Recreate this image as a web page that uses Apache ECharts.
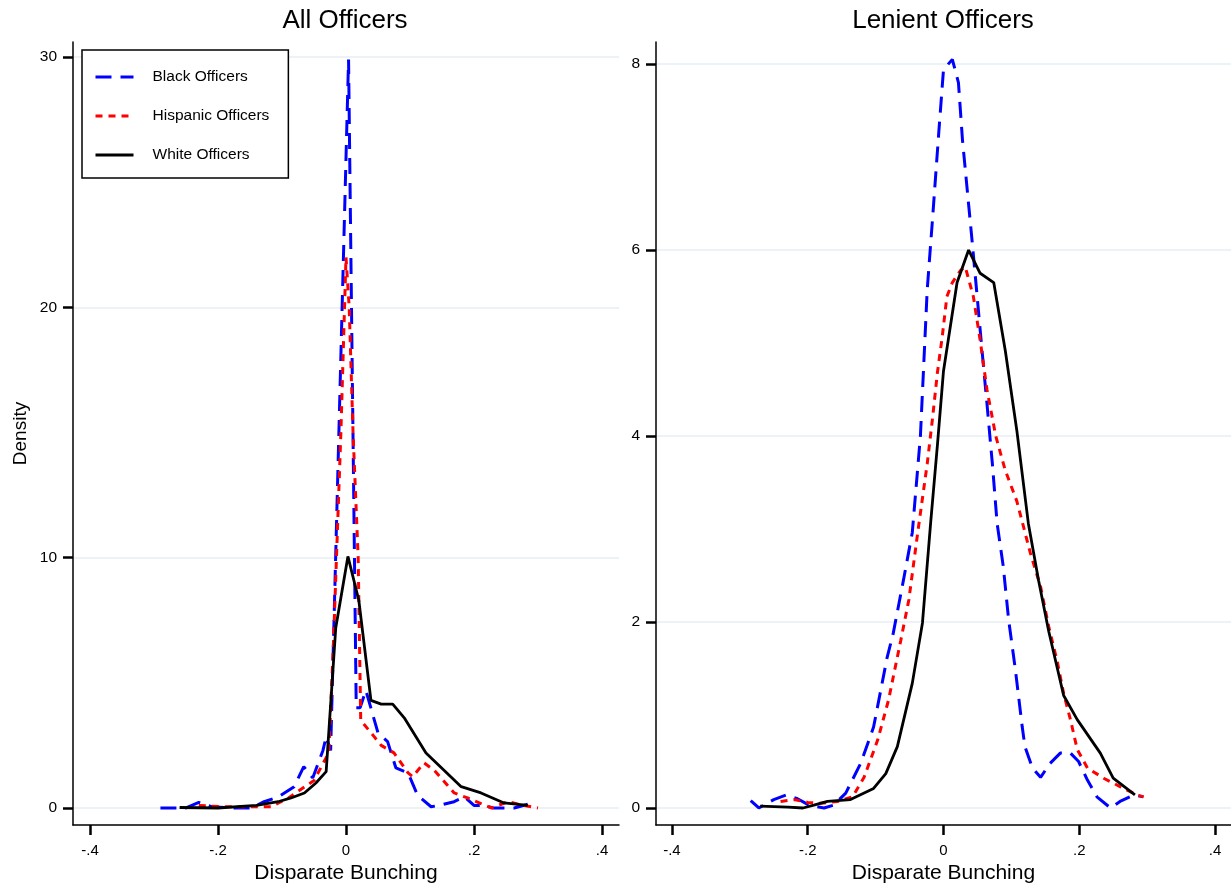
<!DOCTYPE html>
<html>
<head>
<meta charset="utf-8">
<script src="https://cdn.jsdelivr.net/npm/echarts@6/dist/echarts.min.js"></script>
<style>html,body{margin:0;padding:0;background:#fff}#c{width:1231px;height:886px}</style>
</head>
<body>
<div id="c"></div>
<script>
// ---- Data ----
const seriesNames = ['Black Officers', 'Hispanic Officers', 'White Officers'];
const panelTitles = ['All Officers', 'Lenient Officers'];
const xTicks = [-0.4, -0.2, 0, 0.2, 0.4];
const xTickLabels = ['-.4', '-.2', '0', '.2', '.4'];
const yTicksAll = [0, 10, 20, 30];
const yTicksLenient = [0, 2, 4, 6, 8];

// All Officers panel
const allBlackX = [-0.29, -0.25, -0.23, -0.21, -0.175, -0.148, -0.128, -0.105, -0.081, -0.066, -0.052, -0.036, -0.031, -0.024, 0.004, 0.016, 0.022, 0.031, 0.05, 0.065, 0.078, 0.097, 0.112, 0.133, 0.145, 0.169, 0.185, 0.2, 0.216, 0.23, 0.263, 0.284];
const allBlackY = [0, 0, 0.22, 0.05, 0, 0, 0.25, 0.45, 0.85, 1.65, 1.2, 2.3, 2.85, 2.3, 29.9, 4.0, 4.0, 4.7, 3.0, 2.65, 1.6, 1.4, 0.5, 0.05, 0.1, 0.25, 0.45, 0.1, 0.1, 0, 0, 0.15];
const allHispX = [-0.23, -0.195, -0.15, -0.117, -0.09, -0.05, -0.027, -0.02, -0.008, 0.0, 0.005, 0.011, 0.019, 0.023, 0.044, 0.055, 0.075, 0.097, 0.104, 0.122, 0.138, 0.169, 0.19, 0.227, 0.253, 0.278, 0.3];
const allHispY = [0.1, 0.05, 0.05, 0.05, 0.4, 1.1, 2.2, 6.3, 15, 22, 20, 15, 10, 3.5, 2.85, 2.5, 2.2, 1.4, 1.25, 1.8, 1.5, 0.6, 0.4, 0, 0.25, 0.1, 0];
const allWhiteX = [-0.26, -0.2, -0.14, -0.106, -0.086, -0.065, -0.047, -0.031, -0.016, 0.003, 0.02, 0.039, 0.055, 0.073, 0.091, 0.125, 0.18, 0.211, 0.247, 0.284];
const allWhiteY = [0.02, 0.0, 0.1, 0.25, 0.4, 0.6, 1.0, 1.45, 7.2, 10.05, 8.3, 4.3, 4.15, 4.15, 3.6, 2.2, 0.85, 0.6, 0.2, 0.1];

// Lenient Officers panel
const lenBlackX = [-0.284, -0.272, -0.25, -0.232, -0.215, -0.198, -0.176, -0.162, -0.144, -0.122, -0.103, -0.083, -0.074, -0.059, -0.046, -0.034, -0.024, -0.016, -0.007, 0.0, 0.013, 0.022, 0.028, 0.043, 0.057, 0.064, 0.072, 0.079, 0.088, 0.096, 0.106, 0.116, 0.12, 0.131, 0.143, 0.157, 0.172, 0.187, 0.199, 0.212, 0.226, 0.246, 0.26, 0.28, 0.294];
const lenBlackY = [0.08, 0, 0.09, 0.14, 0.1, 0.03, 0, 0.03, 0.16, 0.48, 0.87, 1.62, 1.88, 2.45, 2.96, 4.0, 5.57, 6.35, 7.26, 7.94, 8.05, 7.8, 7.18, 6.03, 4.9, 4.35, 3.7, 3.06, 2.6, 2.02, 1.48, 0.87, 0.66, 0.43, 0.33, 0.48, 0.59, 0.59, 0.5, 0.3, 0.12, 0, 0.07, 0.14, 0.12];
const lenHispX = [-0.24, -0.22, -0.2, -0.181, -0.156, -0.134, -0.117, -0.097, -0.081, -0.063, -0.051, -0.038, -0.024, -0.016, -0.009, -0.002, 0.005, 0.013, 0.025, 0.032, 0.044, 0.054, 0.064, 0.077, 0.091, 0.108, 0.128, 0.143, 0.155, 0.168, 0.177, 0.187, 0.197, 0.212, 0.236, 0.26, 0.285, 0.295];
const lenHispY = [0.07, 0.09, 0.06, 0.05, 0.07, 0.12, 0.33, 0.73, 1.16, 1.8, 2.24, 2.96, 3.7, 4.2, 4.68, 5.06, 5.5, 5.65, 5.78, 5.82, 5.5, 5.03, 4.5, 4.0, 3.63, 3.3, 2.74, 2.38, 1.95, 1.56, 1.23, 0.95, 0.63, 0.43, 0.32, 0.23, 0.14, 0.12];
const lenWhiteX = [-0.27, -0.229, -0.207, -0.191, -0.171, -0.137, -0.103, -0.085, -0.068, -0.046, -0.031, -0.019, -0.009, 0.0, 0.02, 0.037, 0.054, 0.074, 0.091, 0.108, 0.125, 0.14, 0.155, 0.177, 0.197, 0.231, 0.25, 0.282];
const lenWhiteY = [0.02, 0.01, 0, 0.03, 0.07, 0.09, 0.21, 0.37, 0.66, 1.34, 1.99, 3.06, 3.9, 4.7, 5.65, 6.0, 5.75, 5.65, 4.92, 4.06, 3.06, 2.45, 1.9, 1.21, 0.95, 0.59, 0.32, 0.14];

// ---- Chart ----
const FONT = '"Liberation Sans", Arial, Helvetica, sans-serif';
const zip = (xs, ys) => xs.map((x, i) => [x, ys[i]]);
const styles = [
  { color: '#0000ff', type: [16, 9] },
  { color: '#ff0000', type: [7, 6] },
  { color: '#000000', type: 'solid' }
];
const panels = [
  [[allBlackX, allBlackY], [allHispX, allHispY], [allWhiteX, allWhiteY]],
  [[lenBlackX, lenBlackY], [lenHispX, lenHispY], [lenWhiteX, lenWhiteY]]
];

function xAxis(idx, min, max) {
  return {
    type: 'value', gridIndex: idx, min: min, max: max,
    name: 'Disparate Bunching', nameLocation: 'middle', nameGap: 35,
    nameTextStyle: { fontSize: 21, color: '#000', fontFamily: FONT },
    axisLine: { show: true, onZero: false, lineStyle: { color: '#000', width: 1.5 } },
    axisTick: { show: true, length: 10, lineStyle: { color: '#000', width: 2.5 }, customValues: xTicks },
    axisLabel: {
      customValues: xTicks, margin: 18, fontSize: 15, color: '#000', fontFamily: FONT,
      formatter: v => xTickLabels[xTicks.findIndex(t => Math.abs(t - v) < 1e-9)]
    },
    splitLine: { show: false }
  };
}
function yAxis(idx, min, max, ticks, name) {
  return {
    type: 'value', gridIndex: idx, min: min, max: max,
    name: name, nameLocation: 'middle', nameGap: 43,
    nameTextStyle: { fontSize: 19, color: '#000', fontFamily: FONT },
    axisLine: { show: true, onZero: false, lineStyle: { color: '#000', width: 1.5 } },
    axisTick: { show: true, length: 10, lineStyle: { color: '#000', width: 2.5 }, customValues: ticks },
    axisLabel: { customValues: ticks, margin: 16, fontSize: 15.5, color: '#000', fontFamily: FONT },
    splitLine: { show: true, lineStyle: { color: '#e6eef2', width: 1.5 } }
  };
}

const series = [];
panels.forEach((p, pi) => {
  p.forEach((xy, si) => {
    series.push({
      type: 'line', name: seriesNames[si], xAxisIndex: pi, yAxisIndex: pi,
      data: zip(xy[0], xy[1]), symbol: 'none', showSymbol: false,
      lineStyle: { color: styles[si].color, type: styles[si].type, width: si === 2 ? 2.8 : 3 },
      itemStyle: { color: styles[si].color },
      z: 2 + si
    });
  });
});

const option = {
  animation: false,
  backgroundColor: '#ffffff',
  textStyle: { fontFamily: FONT },
  title: [
    { text: panelTitles[0], left: 345, top: 8, padding: 0, textAlign: 'center',
      textStyle: { fontSize: 26, fontWeight: 'normal', color: '#000', fontFamily: FONT } },
    { text: panelTitles[1], left: 943, top: 8, padding: 0, textAlign: 'center',
      textStyle: { fontSize: 26, fontWeight: 'normal', color: '#000', fontFamily: FONT } }
  ],
  legend: {
    data: seriesNames, orient: 'vertical', left: 82, top: 50,
    itemWidth: 38, itemHeight: 14, itemGap: 23,
    padding: [19, 19, 15, 12],
    backgroundColor: '#fff', borderColor: '#000', borderWidth: 1.5, borderRadius: 0,
    itemStyle: { opacity: 0 },
    lineStyle: { width: 3 },
    textStyle: { fontSize: 15.5, color: '#000', fontFamily: FONT, padding: [0, 0, 0, 14] },
    selectedMode: false
  },
  grid: [
    { left: 73, top: 42, width: 546, height: 783, containLabel: false, outerBoundsMode: 'none' },
    { left: 656, top: 42, width: 575, height: 783, containLabel: false, outerBoundsMode: 'none' }
  ],
  xAxis: [xAxis(0, -0.4266, 0.4266), xAxis(1, -0.4235, 0.4235)],
  yAxis: [yAxis(0, -0.68, 30.6, yTicksAll, 'Density'), yAxis(1, -0.183, 8.237, yTicksLenient, '')],
  series: series
};
const chart = echarts.init(document.getElementById('c'), null, { renderer: 'canvas' });
chart.setOption(option);
</script>
</body>
</html>
